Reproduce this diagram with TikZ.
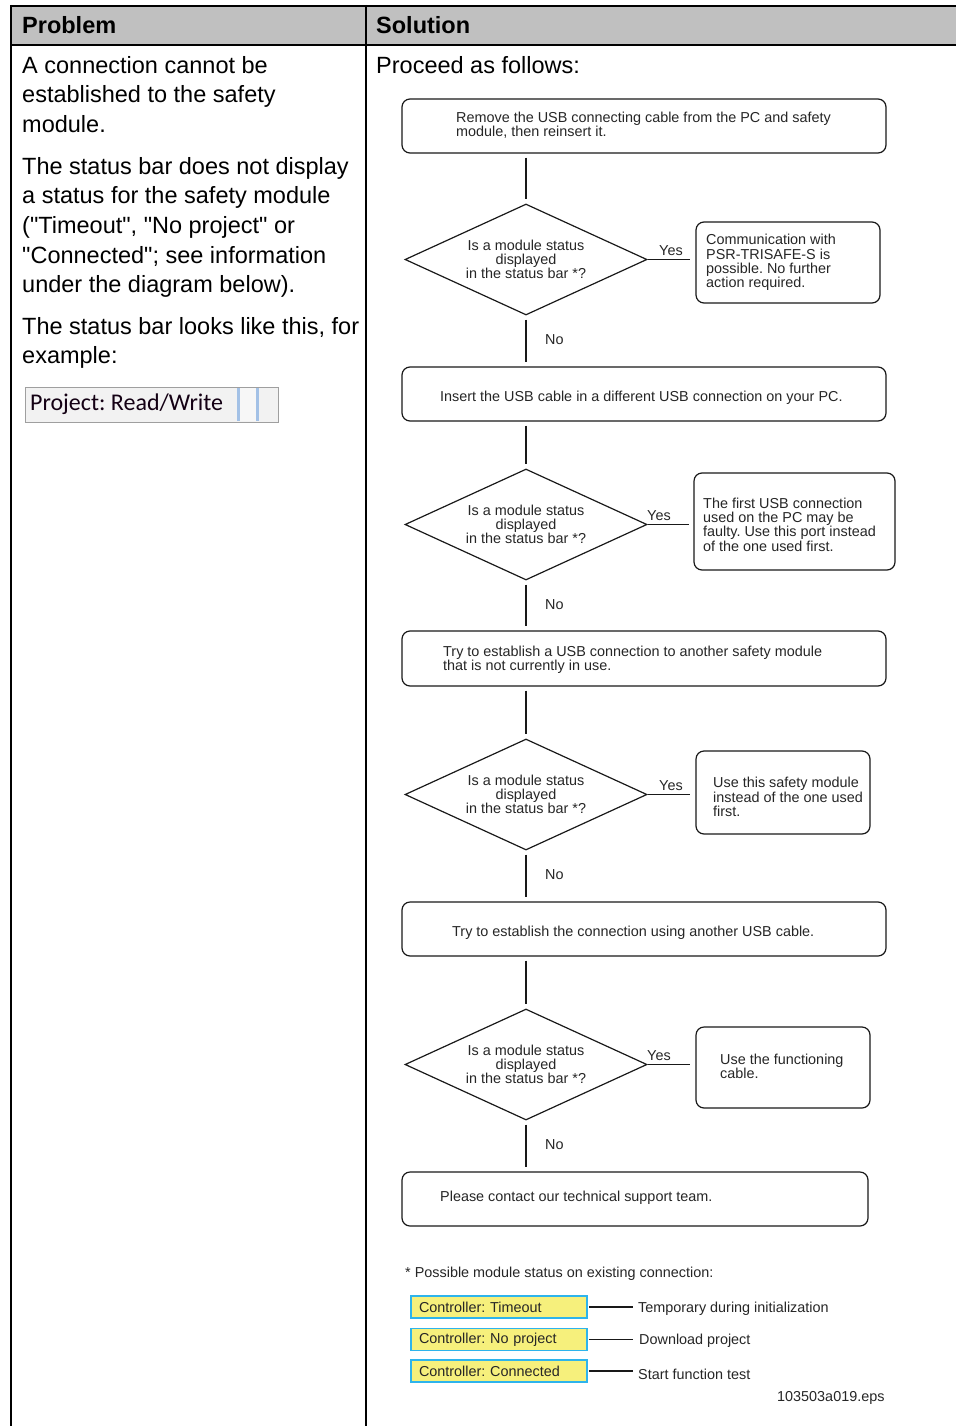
\documentclass[tikz,border=0pt]{standalone}
\usepackage{fontspec}
\setmainfont{Liberation Sans}
\newfontfamily\calibfam{Carlito}
\usetikzlibrary{shapes.geometric}
\definecolor{hdrgray}{HTML}{C0C0C0}
\definecolor{ftext}{HTML}{262626}
\definecolor{ylw}{HTML}{F6F07C}
\definecolor{cyanb}{HTML}{2EB4EC}
\definecolor{sbblue}{HTML}{A3C1E6}
\newcommand\myflowfont{\fontsize{14.4}{14.3}\selectfont}
\newcommand\mybigfont{\fontsize{23.5}{29.6}\selectfont}
\frenchspacing
\begin{document}
\frenchspacing
\begin{tikzpicture}[x=1pt,y=-1pt,
  tabline/.style={line width=2pt},
  flowbox/.style={draw=black!90, line width=1.2pt, rounded corners=8pt, inner sep=0pt},
  decision/.style={diamond, draw=black!90, line width=1.2pt, minimum width=242pt, minimum height=111pt, inner sep=0pt, aspect=2.18, align=center, font=\myflowfont, text=ftext},
  ftxt/.style={font=\myflowfont, text=ftext, align=left, inner sep=0pt},
  conn/.style={line width=1.2pt, draw=black!90},
  bigtxt/.style={font=\mybigfont, align=left, inner sep=0pt, anchor=north west},
  sbox/.style={draw=cyanb, fill=ylw, line width=1.8pt, minimum height=22pt, text width=160pt, inner xsep=8pt, inner ysep=0pt, align=left, font=\myflowfont, text=ftext}
]
\fill[white] (0,0) rectangle (956,1426);
\useasboundingbox (0,0) rectangle (956,1426);

% table
\fill[hdrgray] (11,6) rectangle (956,45);
\draw[tabline] (10,6) -- (956,6);
\draw[tabline] (10,45) -- (956,45);
\draw[tabline] (11,5) -- (11,1426);
\draw[tabline] (366,5) -- (366,1426);

\node[font=\mybigfont\bfseries, anchor=base west, inner sep=0pt] (hp) at (22,33.5) {Problem};
\node[font=\mybigfont\bfseries, anchor=base west, inner sep=0pt] (hs) at (376,33.5) {Solution};

\node[bigtxt] (p1) at (22,56) {A connection cannot be\\established to the safety\\module.};
\node[bigtxt] (p2) at (22,157) {The status bar does not display\\a status for the safety module\\(\textquotedbl Timeout\textquotedbl, \textquotedbl No project\textquotedbl\ or\\\textquotedbl Connected\textquotedbl; see information\\under the diagram below).};
\node[bigtxt] (p3) at (22,317) {The status bar looks like this, for\\example:};
\node[bigtxt] (p4) at (376,56) {Proceed as follows:};

% status bar picture
\node[draw=gray!75, fill=black!5, line width=0.8pt, minimum width=253pt, minimum height=35pt, inner sep=0pt] (sb) at (151.5,404.5) {};
\fill[sbblue] (237,388) rectangle (240,421);
\fill[sbblue] (256,388) rectangle (259,421);
\fill[black!3] (240,388) rectangle (256,421);
\node[font=\calibfam\fontsize{24}{24}\selectfont, text=black!85!violet, anchor=west, inner sep=0pt] (sbt) at (30,404) {Project: Read/Write};

% flowchart
\node[flowbox, minimum width=484pt, minimum height=54pt] (b1) at (644,126) {};
\node[ftxt, anchor=west] (t1) at (456,125.5) {Remove the USB connecting cable from the PC and safety\\module, then reinsert it.};
\node[decision] (d1) at (526,259.5) {Is a module status\\displayed\\in the status bar *?};
\node[flowbox, minimum width=184pt, minimum height=81pt] (r1) at (788,262.5) {};
\node[ftxt, anchor=west] (rt1) at (706,262.5) {Communication with\\PSR-TRISAFE-S is\\possible. No further\\action required.};
\node[ftxt, anchor=base west] (y1) at (659,255) {Yes};
\node[ftxt, anchor=base west] (n1) at (545,344) {No};

\node[flowbox, minimum width=484pt, minimum height=54pt] (b2) at (644,394) {};
\node[ftxt, anchor=west] (t2) at (440,398) {Insert the USB cable in a different USB connection on your PC.};
\node[decision] (d2) at (526,524.5) {Is a module status\\displayed\\in the status bar *?};
\node[flowbox, minimum width=201pt, minimum height=97pt] (r2) at (794.5,521.5) {};
\node[ftxt, anchor=west] (rt2) at (703,524.5) {The first USB connection\\used on the PC may be\\faulty. Use this port instead\\of the one used first.};
\node[ftxt, anchor=base west] (y2) at (647,520) {Yes};
\node[ftxt, anchor=base west] (n2) at (545,609) {No};

\node[flowbox, minimum width=484pt, minimum height=55pt] (b3) at (644,658.5) {};
\node[ftxt, anchor=west] (t3) at (443,660) {Try to establish a USB connection to another safety module\\that is not currently in use.};
\node[decision] (d3) at (526,794.5) {Is a module status\\displayed\\in the status bar *?};
\node[flowbox, minimum width=174pt, minimum height=83pt] (r3) at (783,792.5) {};
\node[ftxt, anchor=west] (rt3) at (713,797) {Use this safety module\\instead of the one used\\first.};
\node[ftxt, anchor=base west] (y3) at (659,790) {Yes};
\node[ftxt, anchor=base west] (n3) at (545,879) {No};

\node[flowbox, minimum width=484pt, minimum height=54pt] (b4) at (644,929) {};
\node[ftxt, anchor=west] (t4) at (452,933) {Try to establish the connection using another USB cable.};
\node[decision] (d4) at (526,1064.5) {Is a module status\\displayed\\in the status bar *?};
\node[flowbox, minimum width=174pt, minimum height=81pt] (r4) at (783,1067.5) {};
\node[ftxt, anchor=west] (rt4) at (720,1066) {Use the functioning\\cable.};
\node[ftxt, anchor=base west] (y4) at (647,1060) {Yes};
\node[ftxt, anchor=base west] (n4) at (545,1149) {No};

\node[flowbox, minimum width=466pt, minimum height=54pt] (b5) at (635,1199) {};
\node[ftxt, anchor=west] (t5) at (440,1198) {Please contact our technical support team.};

% connectors
\draw[conn, shorten <=4pt, shorten >=4pt] (d1.north |- b1.south) -- (d1.north);
\draw[conn, shorten <=4pt, shorten >=4pt] (d1.south) -- (d1.south |- b2.north);
\draw[conn, shorten >=5pt] (d1.east) -- (d1.east -| r1.west);
\draw[conn, shorten <=4pt, shorten >=4pt] (d2.north |- b2.south) -- (d2.north);
\draw[conn, shorten <=4pt, shorten >=4pt] (d2.south) -- (d2.south |- b3.north);
\draw[conn, shorten >=4pt] (d2.east) -- (d2.east -| r2.west);
\draw[conn, shorten <=4pt, shorten >=4pt] (d3.north |- b3.south) -- (d3.north);
\draw[conn, shorten <=4pt, shorten >=4pt] (d3.south) -- (d3.south |- b4.north);
\draw[conn, shorten >=5pt] (d3.east) -- (d3.east -| r3.west);
\draw[conn, shorten <=4pt, shorten >=4pt] (d4.north |- b4.south) -- (d4.north);
\draw[conn, shorten <=4pt, shorten >=4pt] (d4.south) -- (d4.south |- b5.north);
\draw[conn, shorten >=5pt] (d4.east) -- (d4.east -| r4.west);

% footnote
\node[ftxt, anchor=west] (fn) at (405,1274) {* Possible module status on existing connection:};
\node[sbox] (s1) at (499,1307) {Controller: Timeout};
\node[sbox] (s2) at (499,1339.5) {Controller: No project};
\node[sbox] (s3) at (499,1371) {Controller: Connected};
\node[ftxt, anchor=west] (l1) at (638,1309) {Temporary during initialization};
\node[ftxt, anchor=west] (l2) at (639,1341) {Download project};
\node[ftxt, anchor=west] (l3) at (638,1374) {Start function test};
\draw[conn, shorten <=1pt, shorten >=5pt] (s1.east) -- (s1.east -| l1.west);
\draw[conn, shorten <=1pt, shorten >=6pt] (s2.east) -- (s2.east -| l2.west);
\draw[conn, shorten <=1pt, shorten >=5pt] (s3.east) -- (s3.east -| l3.west);
\node[ftxt, anchor=west] (eps) at (777,1398) {103503a019.eps};
\end{tikzpicture}
\end{document}
